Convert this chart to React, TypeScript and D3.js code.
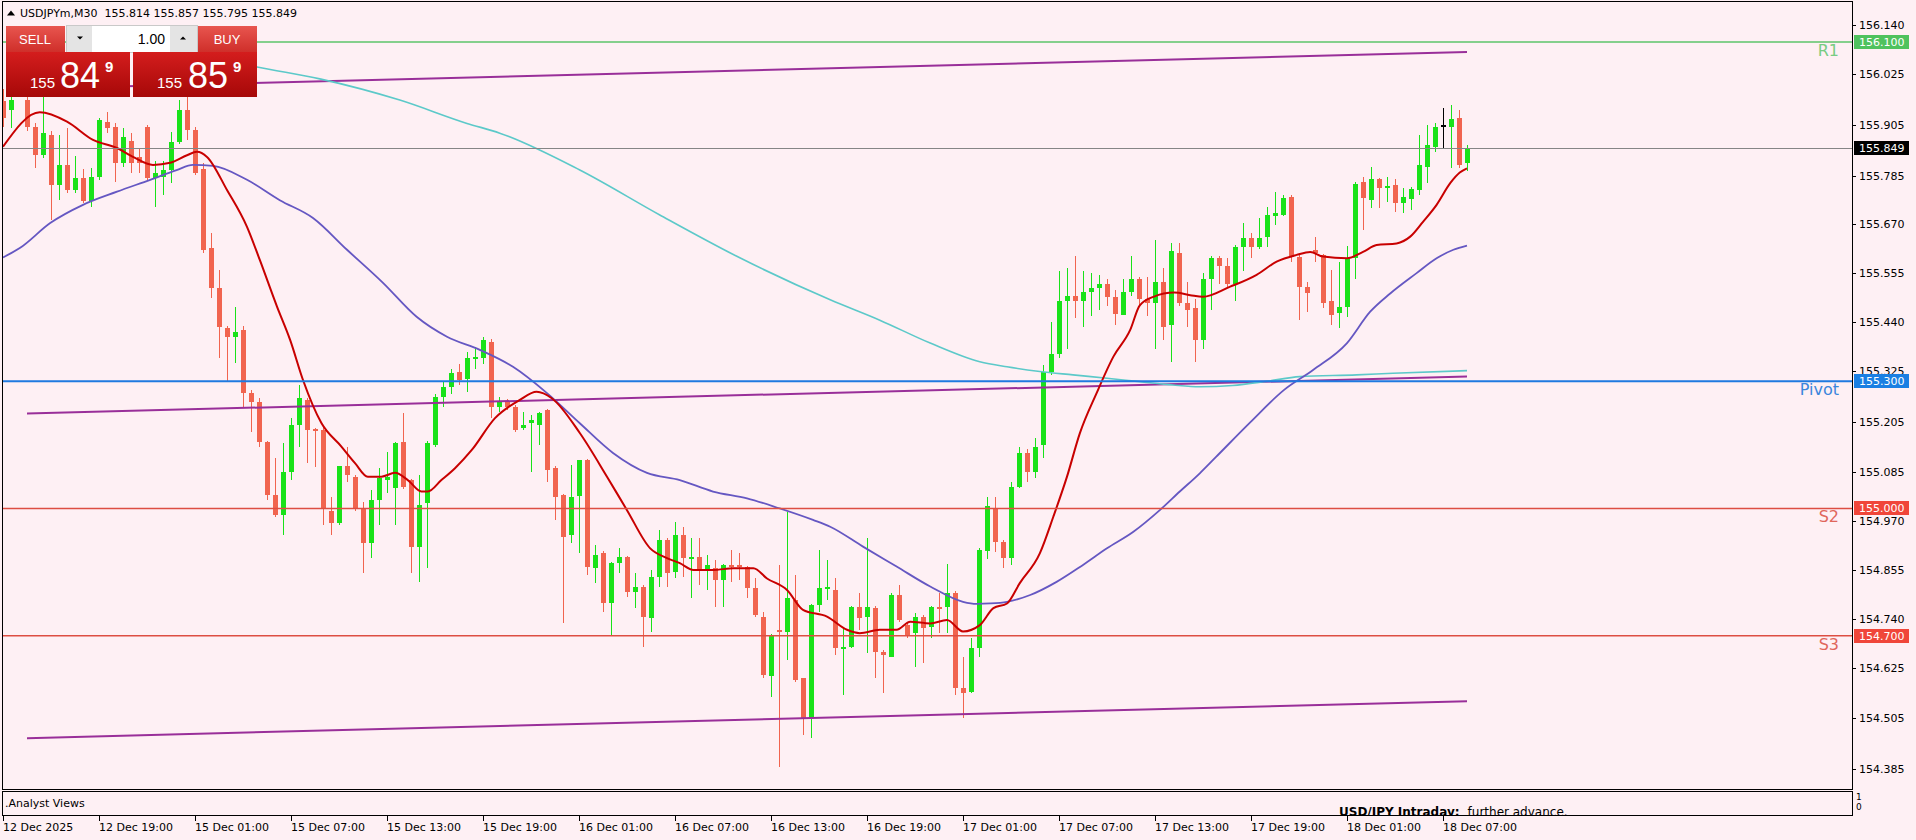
import React from "react";
import * as d3 from "d3";

// ---------- DATA ----------
const candleOpen = [
  155.960, 155.940, 155.985, 155.963, 155.900, 155.833, 155.880, 155.763, 155.810, 155.750,
  155.780, 155.725, 155.782, 155.912, 155.900, 155.815, 155.866, 155.829, 155.900, 155.780,
  155.782, 155.798, 155.864, 155.940, 155.893, 155.800, 155.614, 155.520, 155.426, 155.405,
  155.420, 155.272, 155.250, 155.157, 155.032, 154.985, 155.086, 155.197, 155.256, 155.188,
  155.185, 154.995, 154.965, 155.100, 155.074, 155.001, 154.918, 155.020, 155.068, 155.048,
  155.157, 155.067, 154.909, 155.013, 155.150, 155.263, 155.286, 155.322, 155.305, 155.355,
  155.355, 155.393, 155.239, 155.253, 155.240, 155.190, 155.201, 155.197, 155.232, 155.095,
  155.032, 154.937, 155.030, 155.114, 154.860, 154.895, 154.777, 154.871, 154.885, 154.803,
  154.815, 154.742, 154.838, 154.926, 154.850, 154.937, 154.882, 154.885, 154.855, 154.860,
  154.832, 154.867, 154.866, 154.862, 154.812, 154.744, 154.605, 154.714, 154.709, 154.784,
  154.600, 154.506, 154.773, 154.810, 154.808, 154.671, 154.673, 154.767, 154.744, 154.765,
  154.661, 154.650, 154.796, 154.725, 154.706, 154.744, 154.720, 154.767, 154.767, 154.800,
  154.577, 154.567, 154.671, 154.900, 155.001, 154.920, 154.883, 155.050, 155.130, 155.086,
  155.150, 155.322, 155.364, 155.490, 155.502, 155.490, 155.510, 155.520, 155.530, 155.499,
  155.457, 155.510, 155.540, 155.494, 155.485, 155.535, 155.433, 155.602, 155.485, 155.473,
  155.397, 155.540, 155.591, 155.571, 155.529, 155.616, 155.638, 155.616, 155.641, 155.690,
  155.692, 155.735, 155.594, 155.523, 155.609, 155.598, 155.490, 155.460, 155.475, 155.590,
  155.770, 155.727, 155.778, 155.755, 155.763, 155.720, 155.729, 155.751, 155.806, 155.853,
  155.904, 155.899, 155.920, 155.814,
];
const candleHigh = [
  155.990, 155.990, 156.020, 155.990, 155.910, 155.970, 155.890, 155.880, 155.897, 155.830,
  155.800, 155.803, 155.920, 155.935, 155.910, 155.897, 155.885, 155.850, 155.905, 155.820,
  155.820, 155.887, 155.963, 155.970, 155.900, 155.815, 155.650, 155.563, 155.430, 155.475,
  155.430, 155.280, 155.260, 155.160, 155.120, 155.155, 155.213, 155.290, 155.260, 155.190,
  155.192, 155.027, 155.100, 155.145, 155.080, 155.015, 155.043, 155.096, 155.133, 155.157,
  155.225, 155.070, 155.078, 155.160, 155.270, 155.300, 155.330, 155.340, 155.370, 155.380,
  155.405, 155.400, 155.263, 155.257, 155.245, 155.227, 155.220, 155.227, 155.235, 155.100,
  155.035, 155.102, 155.114, 155.116, 154.914, 154.900, 154.873, 154.907, 154.887, 154.848,
  154.820, 154.855, 154.950, 154.930, 154.968, 154.956, 154.930, 154.930, 154.890, 154.878,
  154.870, 154.902, 154.895, 154.865, 154.836, 154.756, 154.705, 154.867, 154.992, 154.843,
  154.600, 154.775, 154.902, 154.878, 154.836, 154.720, 154.770, 154.800, 154.930, 154.770,
  154.666, 154.800, 154.820, 154.730, 154.754, 154.750, 154.770, 154.800, 154.870, 154.805,
  154.650, 154.695, 154.907, 155.027, 155.027, 154.925, 155.062, 155.145, 155.140, 155.166,
  155.338, 155.440, 155.560, 155.566, 155.596, 155.560, 155.556, 155.550, 155.540, 155.515,
  155.540, 155.596, 155.546, 155.546, 155.633, 155.566, 155.627, 155.627, 155.535, 155.494,
  155.556, 155.596, 155.596, 155.591, 155.622, 155.673, 155.650, 155.684, 155.712, 155.747,
  155.739, 155.740, 155.600, 155.535, 155.640, 155.600, 155.562, 155.582, 155.620, 155.770,
  155.782, 155.806, 155.780, 155.782, 155.778, 155.755, 155.759, 155.880, 155.904, 155.908,
  155.944, 155.951, 155.940, 155.857,
];
const candleLow = [
  155.900, 155.897, 155.975, 155.890, 155.803, 155.826, 155.680, 155.727, 155.745, 155.745,
  155.720, 155.710, 155.775, 155.885, 155.770, 155.805, 155.790, 155.790, 155.775, 155.710,
  155.740, 155.767, 155.860, 155.870, 155.786, 155.602, 155.497, 155.355, 155.300, 155.343,
  155.237, 155.180, 155.145, 155.020, 154.980, 154.937, 155.067, 155.145, 155.107, 155.098,
  154.960, 154.937, 154.960, 155.062, 154.995, 154.848, 154.883, 154.960, 155.036, 154.960,
  155.045, 154.848, 154.827, 154.860, 155.145, 155.240, 155.270, 155.290, 155.275, 155.330,
  155.340, 155.213, 155.227, 155.232, 155.180, 155.185, 155.086, 155.150, 155.062, 154.973,
  154.730, 154.918, 154.895, 154.843, 154.824, 154.756, 154.702, 154.848, 154.791, 154.765,
  154.673, 154.709, 154.815, 154.815, 154.836, 154.838, 154.789, 154.820, 154.808, 154.768,
  154.768, 154.826, 154.832, 154.789, 154.744, 154.600, 154.555, 154.390, 154.643, 154.590,
  154.466, 154.459, 154.756, 154.784, 154.654, 154.560, 154.670, 154.713, 154.660, 154.600,
  154.565, 154.650, 154.732, 154.695, 154.626, 154.635, 154.695, 154.706, 154.706, 154.560,
  154.506, 154.565, 154.650, 154.880, 154.897, 154.860, 154.867, 155.048, 155.062, 155.072,
  155.120, 155.314, 155.355, 155.376, 155.448, 155.428, 155.454, 155.468, 155.478, 155.433,
  155.457, 155.500, 155.479, 155.454, 155.376, 155.397, 155.345, 155.478, 155.428, 155.345,
  155.376, 155.468, 155.529, 155.520, 155.489, 155.560, 155.591, 155.611, 155.617, 155.668,
  155.690, 155.582, 155.444, 155.464, 155.582, 155.472, 155.433, 155.425, 155.452, 155.540,
  155.656, 155.708, 155.708, 155.723, 155.700, 155.696, 155.704, 155.739, 155.767, 155.841,
  155.849, 155.802, 155.802, 155.795,
];
const candleClose = [
  155.920, 155.963, 156.000, 155.900, 155.833, 155.885, 155.763, 155.810, 155.750, 155.780,
  155.725, 155.782, 155.916, 155.898, 155.815, 155.876, 155.815, 155.815, 155.780, 155.790,
  155.798, 155.864, 155.940, 155.893, 155.790, 155.609, 155.520, 155.428, 155.405, 155.416,
  155.272, 155.250, 155.157, 155.032, 154.985, 155.086, 155.197, 155.260, 155.185, 155.183,
  155.000, 154.965, 155.100, 155.078, 155.001, 154.918, 155.020, 155.072, 155.074, 155.154,
  155.050, 154.909, 155.008, 155.155, 155.263, 155.286, 155.319, 155.303, 155.355, 155.358,
  155.398, 155.239, 155.251, 155.240, 155.185, 155.197, 155.208, 155.225, 155.090, 155.027,
  154.933, 155.027, 155.114, 154.862, 154.890, 154.777, 154.871, 154.885, 154.803, 154.815,
  154.744, 154.838, 154.926, 154.848, 154.937, 154.883, 154.885, 154.855, 154.867, 154.832,
  154.867, 154.866, 154.862, 154.812, 154.749, 154.607, 154.702, 154.709, 154.789, 154.596,
  154.506, 154.773, 154.813, 154.815, 154.671, 154.673, 154.767, 154.742, 154.767, 154.662,
  154.654, 154.796, 154.737, 154.700, 154.744, 154.718, 154.767, 154.765, 154.800, 154.577,
  154.565, 154.671, 154.902, 155.006, 154.921, 154.883, 155.050, 155.130, 155.086, 155.145,
  155.322, 155.364, 155.489, 155.501, 155.490, 155.510, 155.520, 155.530, 155.499, 155.459,
  155.510, 155.540, 155.494, 155.485, 155.535, 155.428, 155.607, 155.485, 155.468, 155.397,
  155.540, 155.591, 155.571, 155.529, 155.616, 155.638, 155.616, 155.638, 155.692, 155.697,
  155.732, 155.594, 155.523, 155.507, 155.603, 155.484, 155.456, 155.475, 155.591, 155.765,
  155.731, 155.776, 155.755, 155.760, 155.720, 155.735, 155.753, 155.810, 155.857, 155.900,
  155.904, 155.918, 155.810, 155.849,
];

const timeTickBars = [0, 12, 24, 36, 48, 60, 72, 84, 96, 108, 120, 132, 144, 156, 168, 180];
const timeTickLabels = [
  "12 Dec 2025", "12 Dec 19:00", "15 Dec 01:00", "15 Dec 07:00", "15 Dec 13:00", "15 Dec 19:00",
  "16 Dec 01:00", "16 Dec 07:00", "16 Dec 13:00", "16 Dec 19:00", "17 Dec 01:00", "17 Dec 07:00",
  "17 Dec 13:00", "17 Dec 19:00", "18 Dec 01:00", "18 Dec 07:00",
];

const priceTickLabels = [
  "156.140", "156.025", "155.905", "155.785", "155.670", "155.555", "155.440", "155.325",
  "155.205", "155.085", "154.970", "154.855", "154.740", "154.625", "154.505", "154.385",
];

const levelNames = ["R1", "Pivot", "S2", "S3"];
const levelValues = [156.1, 155.3, 155.0, 154.7];
const levelLabels = ["156.100", "155.300", "155.000", "154.700"];

// moving averages: bar index and value
const maFastBars = [0, 4.6, 8, 11.25, 14.25, 16.25, 18.75, 20.9, 23, 24.25, 25.5, 28, 30.5, 32.1, 34.25, 35.9, 37.5, 39.8, 42.3, 44, 45.6, 47.3, 49, 50.6, 52.3, 53.1, 54.8, 56.5, 58.6, 61.5, 64.6, 66.7, 68.6, 72.1, 75.5, 78, 80.9, 83, 84.6, 86.3, 88.8, 91.3, 93.8, 95.5, 98, 100, 103, 105.5, 107.1, 109.6, 111.7, 113.4, 115.9, 118, 120, 122.1, 123.8, 125.5, 127.1, 129.6, 131.3, 133, 134.6, 136.7, 138.8, 140.9, 142.1, 143.8, 146.4, 148.4, 150, 153.4, 156.7, 159.2, 161.7, 163.4, 165, 168, 170, 171.7, 174.2, 175.9, 177.5, 179.2, 180.9, 182.1, 183];
const maFastValues = [155.853, 155.934, 155.912, 155.869, 155.850, 155.829, 155.810, 155.815, 155.833, 155.841, 155.829, 155.751, 155.664, 155.586, 155.476, 155.397, 155.303, 155.2015, 155.146, 155.107, 155.075, 155.075, 155.084, 155.067, 155.040, 155.040, 155.067, 155.095, 155.138, 155.213, 155.256, 155.275, 155.260, 155.178, 155.075, 154.996, 154.906, 154.883, 154.871, 154.855, 154.855, 154.859, 154.859, 154.835, 154.808, 154.761, 154.745, 154.714, 154.706, 154.714, 154.714, 154.733, 154.729, 154.737, 154.710, 154.725, 154.765, 154.776, 154.824, 154.894, 154.981, 155.075, 155.177, 155.272, 155.358, 155.421, 155.479, 155.499, 155.509, 155.503, 155.499, 155.523, 155.551, 155.582, 155.598, 155.605, 155.594, 155.590, 155.605, 155.621, 155.625, 155.641, 155.676, 155.716, 155.767, 155.792, 155.802];

const maMidBars = [0, 2.1, 5.9, 10, 14.25, 18.4, 21.7, 23.75, 26.25, 30.5, 34.6, 38.75, 43, 47.5, 51.7, 55.5, 59.6, 63.75, 68, 72.1, 76.25, 80.5, 84.6, 88.75, 93, 97.1, 101.25, 103.4, 107.5, 111.7, 115.9, 120, 121.7, 123.4, 125.5, 128.4, 131.7, 135, 138, 141.3, 144.6, 147.1, 149.6, 151.6, 155.9, 160.1, 163.8, 168, 170.9, 173.4, 176.7, 179.2, 181.3, 183];
const maMidValues = [155.592, 155.614, 155.673, 155.716, 155.747, 155.775, 155.798, 155.810, 155.808, 155.775, 155.727, 155.685, 155.610, 155.532, 155.452, 155.405, 155.374, 155.334, 155.272, 155.201, 155.131, 155.084, 155.067, 155.040, 155.024, 155.000, 154.973, 154.957, 154.910, 154.863, 154.816, 154.780, 154.775, 154.776, 154.780, 154.796, 154.827, 154.867, 154.906, 154.945, 154.996, 155.040, 155.083, 155.121, 155.203, 155.279, 155.327, 155.390, 155.464, 155.507, 155.555, 155.590, 155.610, 155.620];

const maSlowBars = [15, 31.75, 39.6, 49.6, 58, 62.1, 72.1, 82.1, 92.1, 103.4, 109.6, 115.9, 122.1, 125.5, 129.6, 133.75, 138, 142.1, 146.25, 149.6, 153.7, 158, 162.1, 169.2, 173.75, 183];
const maSlowValues = [156.120, 156.041, 156.013, 155.963, 155.908, 155.885, 155.798, 155.692, 155.591, 155.492, 155.444, 155.390, 155.346, 155.334, 155.323, 155.315, 155.307, 155.299, 155.291, 155.287, 155.290, 155.300, 155.311, 155.315, 155.319, 155.325];

const channelBars = [3, 183];
const channelMid = [155.224, 155.311];
const channelDev = 0.7656;

const symbolName = "USDJPYm,M30";
const lastOHLC = ["155.814", "155.857", "155.795", "155.849"];
const lastPrice = 155.849;
const lastPriceLabel = "155.849";
const lotSize = "1.00";
const bidParts = ["155", "84", "9"];
const askParts = ["155", "85", "9"];
const indicatorName = ".Analyst Views";
const analystTitle = "USD/JPY Intraday:";
const analystText = "further advance.";

// ---------- STYLE ----------
const BG = "#fef0f4";
const BULL = "#19e219";
const BEAR = "#f1644f";
const FONT = "'DejaVu Sans', sans-serif";
const FONT2 = "'Liberation Sans', Arial, sans-serif";
const levelLineColors = ["#5cc46a", "#1f7ae0", "#dd4e42", "#dd4e42"];
const levelTextColors = ["#77cc82", "#3a86dc", "#e0675c", "#e0675c"];
const levelBoxColors = ["#4fc25e", "#1a7fe3", "#f0463a", "#f0463a"];

export default function App() {
  const W = 1916;
  const H = 840;
  const L = 3;
  const R = 1852;
  const T = 2;
  const B = 789;

  const x = d3.scaleLinear().domain([0, 183]).range([3, 1467]);
  const y = d3.scaleLinear().domain([154.385, 156.14]).range([769.3, 25]);

  const line = d3
    .line<[number, number]>()
    .x((d) => x(d[0]))
    .y((d) => y(d[1]))
    .curve(d3.curveMonotoneX);

  const zip = (a: number[], b: number[]) => a.map((v, i) => [v, b[i]] as [number, number]);

  const chan = (off: number) =>
    d3.line<[number, number]>().x((d) => x(d[0])).y((d) => y(d[1] + off))(zip(channelBars, channelMid)) || "";

  return (
    <div style={{ position: "absolute", left: 0, top: 0, width: W, height: H, overflow: "hidden" }}>
      <svg width={W} height={H} style={{ display: "block" }} fontFamily={FONT}>
        <defs>
          <clipPath id="main">
            <rect x={L} y={T} width={R - L} height={B - T} />
          </clipPath>
          <clipPath id="sub">
            <rect x={L} y={792} width={R - L} height={23} />
          </clipPath>
          <linearGradient id="btnGrad" x1="0" y1="0" x2="0" y2="1">
            <stop offset="0" stopColor="#e8554f" />
            <stop offset="1" stopColor="#cf2f2a" />
          </linearGradient>
          <linearGradient id="pxGrad" x1="0" y1="0" x2="0" y2="1">
            <stop offset="0" stopColor="#d41d1d" />
            <stop offset="1" stopColor="#a60808" />
          </linearGradient>
        </defs>
        <rect x={0} y={0} width={W} height={H} fill={BG} />

        <g clipPath="url(#main)">
          {/* candles */}
          <g shapeRendering="crispEdges">
            {candleOpen.map((o, i) => {
              const c = candleClose[i];
              const cx = Math.round(x(i));
              const col = c > o ? BULL : c < o ? BEAR : "#000";
              const yt = Math.round(y(Math.max(o, c)));
              const yb = Math.round(y(Math.min(o, c)));
              return (
                <g key={i}>
                  <line
                    x1={cx + 0.5}
                    x2={cx + 0.5}
                    y1={Math.round(y(candleHigh[i]))}
                    y2={Math.round(y(candleLow[i]))}
                    stroke={col}
                    strokeWidth={1}
                  />
                  {yb - yt >= 2 ? (
                    <rect x={cx - 2} y={yt} width={5} height={yb - yt} fill={col} />
                  ) : (
                    <rect x={cx - 2} y={yt} width={5} height={2} fill={col} />
                  )}
                </g>
              );
            })}
          </g>

          {/* regression channel */}
          <path d={chan(0)} stroke="#992f99" strokeWidth={2} fill="none" />
          <path d={chan(channelDev)} stroke="#992f99" strokeWidth={2} fill="none" />
          <path d={chan(-channelDev)} stroke="#992f99" strokeWidth={2} fill="none" />

          {/* moving averages */}
          <path d={line(zip(maSlowBars, maSlowValues)) || ""} stroke="#5cc9c9" strokeWidth={1.6} fill="none" />
          <path d={line(zip(maMidBars, maMidValues)) || ""} stroke="#6557c2" strokeWidth={1.8} fill="none" />
          <path d={line(zip(maFastBars, maFastValues)) || ""} stroke="#c80000" strokeWidth={2} fill="none" />

          {/* levels */}
          {levelValues.map((v, i) => (
            <line
              key={i}
              x1={L}
              x2={R}
              y1={y(v)}
              y2={y(v)}
              stroke={levelLineColors[i]}
              strokeWidth={i === 1 ? 2 : 1.5}
            />
          ))}
          <line x1={L} x2={R} y1={Math.round(y(lastPrice)) + 0.5} y2={Math.round(y(lastPrice)) + 0.5} stroke="#858585" strokeWidth={1} />
          {levelNames.map((n, i) => (
            <text
              key={n}
              x={1839}
              y={y(levelValues[i]) + 14}
              textAnchor="end"
              fontSize={16}
              fill={levelTextColors[i]}
            >
              {n}
            </text>
          ))}
        </g>

        {/* frame */}
        <g shapeRendering="crispEdges" fill="none" stroke="#000">
          <rect x={2.5} y={1.5} width={1850} height={787.5} />
          <rect x={2.5} y={791.5} width={1850} height={24} />
        </g>

        {/* price axis */}
        <g fontSize={11} fill="#000">
          {priceTickLabels.map((t) => {
            const py = Math.round(y(+t));
            return (
              <g key={t}>
                <line x1={R} x2={R + 4} y1={py + 0.5} y2={py + 0.5} stroke="#000" shapeRendering="crispEdges" />
                <text x={1859} y={py + 4}>
                  {t}
                </text>
              </g>
            );
          })}
          {levelValues.map((v, i) => {
            const py = Math.round(y(v));
            return (
              <g key={i}>
                <rect x={1854} y={py - 7} width={55} height={14} fill={levelBoxColors[i]} />
                <text x={1859} y={py + 4} fill="#fff">
                  {levelLabels[i]}
                </text>
              </g>
            );
          })}
          <rect x={1854} y={Math.round(y(lastPrice)) - 7} width={55} height={14} fill="#000" />
          <text x={1859} y={Math.round(y(lastPrice)) + 4} fill="#fff">
            {lastPriceLabel}
          </text>
        </g>

        {/* sub window */}
        <g>
          <text x={5} y={807} fontSize={11} fill="#000">
            {indicatorName}
          </text>
          <g clipPath="url(#sub)">
            <text x={1339} y={816} fontSize={12} fill="#000">
              <tspan fontWeight="bold">{analystTitle}</tspan>
              <tspan dx={8}>{analystText}</tspan>
            </text>
          </g>
          <text x={1856} y={800} fontSize={9} fill="#000">1</text>
          <text x={1856} y={810} fontSize={9} fill="#000">0</text>
        </g>

        {/* time axis */}
        <g fontSize={11} fill="#000">
          {timeTickBars.map((b, i) => {
            const tx = Math.round(x(b));
            return (
              <g key={b}>
                <line x1={tx + 0.5} x2={tx + 0.5} y1={816} y2={821} stroke="#000" shapeRendering="crispEdges" />
                <text x={tx} y={831}>
                  {timeTickLabels[i]}
                </text>
              </g>
            );
          })}
        </g>

        {/* header */}
        <path d="M7,15.5 L15,15.5 L11,10.5 Z" fill="#000" />
        <text x={20} y={17} fontSize={11} fill="#000" xmlSpace="preserve">
          {symbolName + "  " + lastOHLC.join(" ")}
        </text>

        {/* one click trading panel */}
        <g fontFamily={FONT2}>
          <rect x={6} y={26} width={59} height={26} fill="url(#btnGrad)" />
          <text x={35} y={44} fontSize={13} fill="#fff" textAnchor="middle">SELL</text>
          <rect x={66.5} y={25.5} width={131} height={27} fill="#f4f4f4" stroke="#c9c9c9" />
          <rect x={67} y={26} width={25} height={26} fill="#e4e4e4" />
          <rect x={92} y={26} width={78} height={26} fill="#ffffff" />
          <rect x={170} y={26} width={27} height={26} fill="#e4e4e4" />
          <path d="M77,36.5 L83,36.5 L80,39.5 Z" fill="#000" />
          <path d="M180,39.5 L186,39.5 L183,36.5 Z" fill="#000" />
          <text x={165} y={44} fontSize={14} fill="#000" textAnchor="end">{lotSize}</text>
          <rect x={198} y={26} width={59} height={26} fill="url(#btnGrad)" />
          <text x={227} y={44} fontSize={13} fill="#fff" textAnchor="middle">BUY</text>

          <rect x={6} y={52} width={124} height={45} fill="url(#pxGrad)" />
          <rect x={133} y={52} width={124} height={45} fill="url(#pxGrad)" />
          <text x={30} y={88} fontSize={15} fill="#fff">{bidParts[0]}</text>
          <text x={60} y={88} fontSize={36} fill="#fff">{bidParts[1]}</text>
          <text x={105} y={72} fontSize={15} fontWeight="bold" fill="#fff">{bidParts[2]}</text>
          <text x={157} y={88} fontSize={15} fill="#fff">{askParts[0]}</text>
          <text x={188} y={88} fontSize={36} fill="#fff">{askParts[1]}</text>
          <text x={233} y={72} fontSize={15} fontWeight="bold" fill="#fff">{askParts[2]}</text>
        </g>
      </svg>
    </div>
  );
}
